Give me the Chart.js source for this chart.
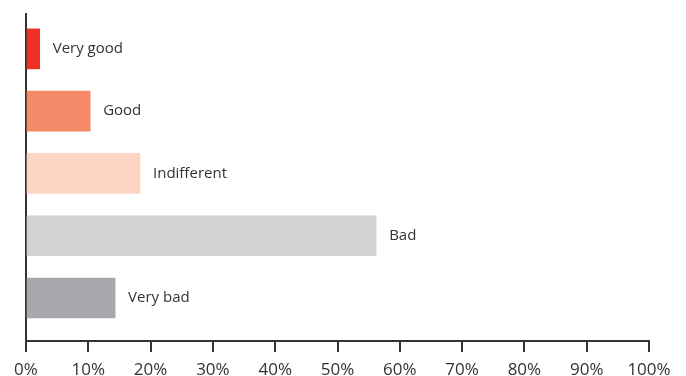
<!DOCTYPE html>
<html>
<head>
<meta charset="utf-8">
<script src="https://cdn.jsdelivr.net/npm/chart.js@4"></script>
<style>
  html, body { margin: 0; padding: 0; background: #fff; }
  #wrap { width: 686px; height: 376px; }
</style>
</head>
<body>
<div id="wrap"><canvas id="myChart" width="686" height="376"></canvas></div>
<script>
const categories = ['Very good', 'Good', 'Indifferent', 'Bad', 'Very bad'];
const shares = [2.2, 10.3, 18.3, 56.2, 14.3];
const barColors = ['#ef3124', '#f58a68', '#fed5c4', '#d1d2d3', '#a8a9ac'];
const xTicks = [0, 10, 20, 30, 40, 50, 60, 70, 80, 90, 100];

const ink = '#333333';

// label each bar to its right
const barLabels = {
  id: 'barLabels',
  afterDatasetsDraw(chart) {
    const ctx = chart.ctx;
    const meta = chart.getDatasetMeta(0);
    ctx.save();
    ctx.fillStyle = ink;
    ctx.font = '15px "Open Sans"';
    ctx.textBaseline = 'middle';
    meta.data.forEach((bar, i) => {
      ctx.fillText(categories[i], bar.x + 13, bar.y);
    });
    ctx.restore();
  },
};

const ctx = document.getElementById('myChart');

new Chart(ctx, {
  type: 'bar',
  data: {
    labels: categories,
    datasets: [
      {
        data: shares.map((v, i) => ({ x: v, y: i })),
        backgroundColor: barColors,
        borderWidth: 0,
        barThickness: 40,
      },
    ],
  },
  options: {
    indexAxis: 'y',
    responsive: false,
    animation: false,
    layout: { padding: { top: 14, right: 37, left: 0, bottom: 0 } },
    plugins: { legend: { display: false }, tooltip: { enabled: false } },
    scales: {
      x: {
        type: 'linear',
        min: 0,
        max: 100,
        afterBuildTicks: (scale) => {
          scale.ticks = xTicks.map((v) => ({ value: v }));
        },
        afterFit: (scale) => {
          scale.height = 35;
        },
        grid: {
          drawOnChartArea: false,
          drawTicks: true,
          tickLength: 11,
          color: ink,
          lineWidth: 2,
        },
        border: { display: true, color: ink, width: 2 },
        ticks: {
          color: ink,
          font: { family: 'Open Sans', size: 17 },
          padding: 8,
          maxRotation: 0,
          callback: (v) => v + '%',
        },
      },
      y: {
        type: 'linear',
        reverse: true,
        offset: false,
        min: -0.56,
        max: 4.69,
        afterFit: (scale) => {
          scale.width = 26;
        },
        grid: { display: false, drawTicks: false, offset: false },
        border: { display: true, color: ink, width: 2 },
        ticks: { display: false },
      },
    },
  },
  plugins: [barLabels],
});
</script>
</body>
</html>
